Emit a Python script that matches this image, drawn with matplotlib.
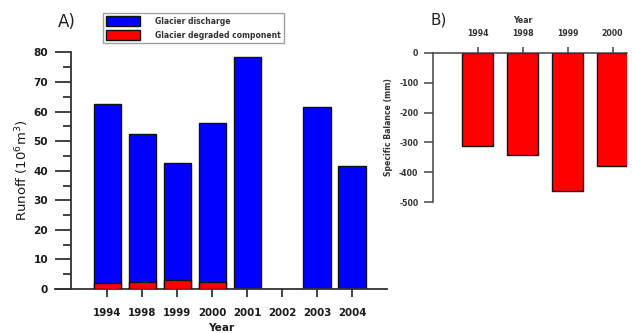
import numpy as np
import matplotlib.pyplot as plt
from matplotlib.ticker import MultipleLocator

plt.rcParams['font.family'] = ['DejaVu Sans']
plt.rcParams['axes.unicode_minus'] = False

years_a = ['1994', '1998', '1999', '2000', '2001', '2002', '2003', '2004']
discharge = [62.5, 52.3, 42.6, 56.0, 78.5, np.nan, 61.7, 41.5]
degraded = [2.1, 2.4, 3.2, 2.5, np.nan, np.nan, np.nan, np.nan]

years_b = ['1994', '1998', '1999', '2000']
balance = [-311, -341, -463, -380]

W, H = 632, 333
fig = plt.figure(figsize=(W / 100, H / 100), dpi=100)
txt = '#1a1a1a'
spc = '#333333'

# ---- panel A
axa = fig.add_axes([55 / W, 1 - 289 / H, (387 - 55) / W, (289 - 52.5) / H])
xa = np.arange(len(years_a))
b1 = axa.bar(xa, discharge, width=0.78, color='#0000ff', edgecolor='#111111', linewidth=1.0, zorder=2)
b2 = axa.bar(xa, degraded, width=0.78, color='#ff0000', edgecolor='#111111', linewidth=1.0, zorder=3)
axa.set_xlim(-1.5, 8.0)
axa.set_ylim(0, 80)
axa.spines['top'].set_visible(False)
axa.spines['right'].set_visible(False)
axa.spines['left'].set_position(('data', -1.04))
axa.spines['left'].set_bounds(0, 80)
for s in ['left', 'bottom']:
    axa.spines[s].set_linewidth(1.3)
    axa.spines[s].set_color(spc)
axa.set_xticks(xa)
axa.set_xticklabels(years_a, fontsize=7.4, fontweight='bold', color=txt)
axa.yaxis.set_major_locator(MultipleLocator(10))
axa.yaxis.set_minor_locator(MultipleLocator(5))
axa.tick_params(axis='x', direction='out', length=6, width=1.3, color=spc, pad=8)
axa.tick_params(axis='y', which='major', direction='out', length=11.5, width=1.3, color=spc, pad=5,
                labelsize=7.6, labelcolor=txt)
axa.tick_params(axis='y', which='minor', direction='out', length=6, width=1.3, color=spc)
for lab in axa.get_yticklabels():
    lab.set_fontweight('bold')
axa.set_xlabel('Year', fontsize=7.6, fontweight='bold', color=txt, labelpad=3)
axa.set_ylabel('Runoff (10$^6$m$^3$)', fontsize=9.5, color=txt, labelpad=2)
fig.text(58 / W, 1 - 22 / H, 'A)', fontsize=12, color='#222222', va='center', ha='left')

leg = fig.legend([b1, b2], ['Glacier discharge', 'Glacier degraded component'],
                 loc='upper left', bbox_to_anchor=(103 / W, 1 - 13 / H),
                 prop={'size': 5.5, 'weight': 'bold'}, fancybox=False, frameon=True,
                 handlelength=4.4, handleheight=1.45, labelspacing=0.65,
                 borderpad=0.45, handletextpad=1.9, borderaxespad=0)
leg.get_frame().set_edgecolor('#888888')
leg.get_frame().set_linewidth(1.0)
for t in leg.get_texts():
    t.set_color('#333333')

# ---- panel B
axb = fig.add_axes([433 / W, 1 - 202 / H, (627 - 433) / W, (202 - 53) / H])
xb = np.arange(len(years_b))
axb.bar(xb, balance, width=0.69, color='#ff0000', edgecolor='#111111', linewidth=1.0, zorder=2)
axb.set_xlim(-0.99, 3.32)
axb.set_ylim(-500, 0)
axb.spines['bottom'].set_visible(False)
axb.spines['right'].set_visible(False)
for s in ['left', 'top']:
    axb.spines[s].set_linewidth(1.1)
    axb.spines[s].set_color('#444444')
axb.xaxis.tick_top()
axb.xaxis.set_label_position('top')
axb.set_xticks(xb)
axb.set_xticklabels(years_b, fontsize=5.6, fontweight='bold', color='#333333')
axb.yaxis.set_major_locator(MultipleLocator(100))
axb.tick_params(axis='x', direction='out', length=4.5, width=1.1, color='#444444', pad=6)
axb.tick_params(axis='y', direction='out', length=6.5, width=1.1, color='#444444', pad=4,
                labelsize=5.6, labelcolor='#333333')
for lab in axb.get_yticklabels():
    lab.set_fontweight('bold')
axb.set_xlabel('Year', fontsize=5.6, fontweight='bold', color='#333333', labelpad=4)
axb.xaxis.set_label_coords(0.46, 1.2)
axb.set_ylabel('Specific Balance (mm)', fontsize=5.6, fontweight='bold', color='#333333', labelpad=4)
fig.text(430 / W, 1 - 20 / H, 'B)', fontsize=11, color='#222222', va='center', ha='left')

fig.savefig('out.png', dpi=100)
